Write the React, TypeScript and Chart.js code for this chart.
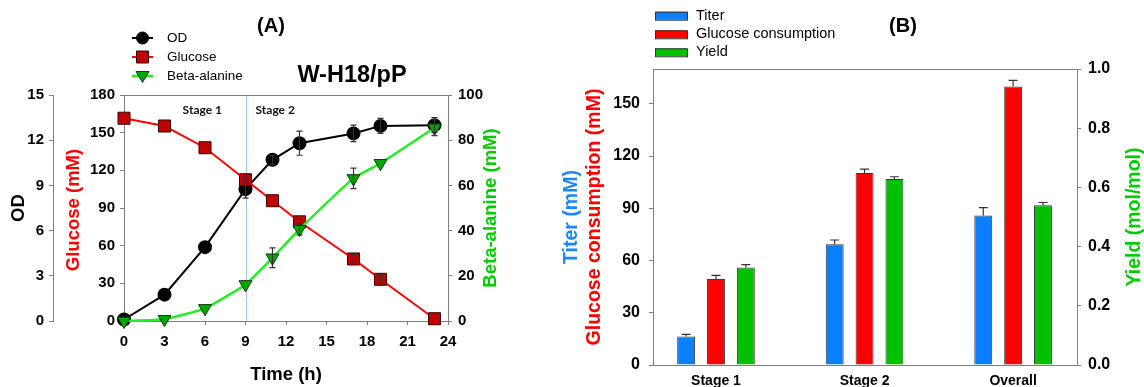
import React, { useEffect, useRef } from 'react';
import { Chart, registerables } from 'chart.js';

Chart.register(...registerables);

// ---------- Panel A data ----------
const timeH = [0, 3, 6, 9, 11, 13, 17, 19, 23];
const odValues = [0.1, 1.75, 4.9, 8.75, 10.7, 11.8, 12.45, 12.95, 13.0];
const odErrors = [0, 0, 0, 0.6, 0.3, 0.8, 0.55, 0.5, 0.5];
const glucoseValues = [161.5, 155.3, 138, 112.5, 95.8, 79, 49.4, 33.2, 1.8];
const glucoseErrors = [0, 0, 0, 3, 0, 2, 3.5, 3.5, 0];
const betaValues = [0, 0.8, 5.6, 16.2, 28, 40.6, 63.1, 69.8, 85.5];
const betaErrors = [0, 0, 0, 0, 4.4, 2.5, 4.5, 0, 3.5];
const timeTicks = [0, 3, 6, 9, 12, 15, 18, 21, 24];
const odTicks = [0, 3, 6, 9, 12, 15];
const glucoseTicks = [0, 30, 60, 90, 120, 150, 180];
const betaTicks = [0, 20, 40, 60, 80, 100];
const stageTexts = ['Stage 1', 'Stage 2'];

// ---------- Panel B data ----------
const stageLabels = ['Stage 1', 'Stage 2', 'Overall'];
const titerValues = [16.3, 69.3, 85.8];
const titerErrors = [1.3, 2.5, 4.6];
const consumptionValues = [49.4, 110.2, 160];
const consumptionErrors = [2.1, 2.3, 3.5];
const yieldValues = [0.329, 0.628, 0.54];
const yieldErrors = [0.01, 0.008, 0.009];
const leftTicksB = [0, 30, 60, 90, 120, 150];
const rightTicksB = [0, 0.2, 0.4, 0.6, 0.8, 1.0];

const FONT = "'Liberation Sans', Arial, sans-serif";
const AXIS = '#7f7f7f';

const setTicks = (arr: number[]) => (s: any) => {
  s.ticks = arr.map((v) => ({ value: v }));
};

function drawMarker(ctx: CanvasRenderingContext2D, style: string, x: number, y: number, fill: string, stroke: string) {
  ctx.save();
  ctx.fillStyle = fill;
  ctx.strokeStyle = stroke;
  ctx.lineWidth = 1;
  ctx.beginPath();
  if (style === 'circle') ctx.arc(x, y, 6, 0, Math.PI * 2);
  else if (style === 'rect') ctx.rect(x - 6, y - 6, 12, 12);
  else {
    ctx.moveTo(x - 6.5, y - 4.5);
    ctx.lineTo(x + 6.5, y - 4.5);
    ctx.lineTo(x, y + 6.5);
    ctx.closePath();
  }
  ctx.fill();
  ctx.stroke();
  ctx.restore();
}

function vText(ctx: CanvasRenderingContext2D, text: string, x: number, y: number, font: string, color: string) {
  ctx.save();
  ctx.translate(x, y);
  ctx.rotate(-Math.PI / 2);
  ctx.font = font;
  ctx.fillStyle = color;
  ctx.textAlign = 'center';
  ctx.textBaseline = 'middle';
  ctx.fillText(text, 0, 0);
  ctx.restore();
}

function hText(ctx: CanvasRenderingContext2D, text: string, x: number, y: number, font: string, color: string, align: CanvasTextAlign = 'center') {
  ctx.save();
  ctx.font = font;
  ctx.fillStyle = color;
  ctx.textAlign = align;
  ctx.textBaseline = 'middle';
  ctx.fillText(text, x, y);
  ctx.restore();
}

const framePlugin = {
  id: 'frame',
  afterDraw(chart: any) {
    const { ctx, chartArea: a } = chart;
    ctx.save();
    ctx.strokeStyle = AXIS;
    ctx.lineWidth = 1;
    ctx.beginPath();
    ctx.moveTo(Math.round(a.left) + 0.5, Math.round(a.top) + 0.5);
    ctx.lineTo(Math.round(a.right) + 0.5, Math.round(a.top) + 0.5);
    ctx.stroke();
    ctx.restore();
  },
};

const errorBarPlugin = {
  id: 'errbars',
  afterDatasetsDraw(chart: any) {
    const { ctx } = chart;
    chart.data.datasets.forEach((ds: any, di: number) => {
      const errs: number[] = ds.errors;
      if (!errs) return;
      const meta = chart.getDatasetMeta(di);
      const yScale = chart.scales[meta.yAxisID];
      const upOnly = ds.upOnly;
      const cap = ds.capWidth || 6;
      meta.data.forEach((el: any, i: number) => {
        const e = errs[i];
        if (!e) return;
        const v = typeof ds.data[i] === 'object' ? ds.data[i].y : ds.data[i];
        const x = el.x;
        const yTop = yScale.getPixelForValue(v + e);
        const yBot = upOnly ? yScale.getPixelForValue(v) : yScale.getPixelForValue(v - e);
        ctx.save();
        ctx.strokeStyle = '#333';
        ctx.lineWidth = 1.2;
        ctx.beginPath();
        ctx.moveTo(x, yTop);
        ctx.lineTo(x, yBot);
        ctx.moveTo(x - cap / 2, yTop);
        ctx.lineTo(x + cap / 2, yTop);
        if (!upOnly) {
          ctx.moveTo(x - cap / 2, yBot);
          ctx.lineTo(x + cap / 2, yBot);
        }
        ctx.stroke();
        ctx.restore();
      });
    });
  },
};

const decorA = {
  id: 'decorA',
  beforeDatasetsDraw(chart: any) {
    const { ctx, chartArea: a, scales } = chart;
    const x9 = Math.round(scales.x.getPixelForValue(9)) + 0.5;
    ctx.save();
    ctx.strokeStyle = '#9dc3e6';
    ctx.lineWidth = 1;
    ctx.beginPath();
    ctx.moveTo(x9, a.top);
    ctx.lineTo(x9, a.bottom);
    ctx.stroke();
    ctx.restore();
    hText(ctx, stageTexts[0], scales.x.getPixelForValue(5.8), a.top + 15, "bold 12px Lato, 'Open Sans', sans-serif", '#111');
    hText(ctx, stageTexts[1], scales.x.getPixelForValue(11.2), a.top + 15, "bold 12px Lato, 'Open Sans', sans-serif", '#111');
  },
  afterDraw(chart: any) {
    const { ctx, chartArea: a, scales } = chart;
    const cy = (a.top + a.bottom) / 2;
    const tf = `bold 18.5px ${FONT}`;
    vText(ctx, 'OD', scales.yOD.left + 18.5, cy, tf, '#000');
    vText(ctx, 'Glucose (mM)', scales.yGlu.left + 20.5, cy + 2, tf, '#ff0000');
    vText(ctx, 'Beta-alanine (mM)', scales.yBeta.left + 43, cy, tf, '#00cc00');
    hText(ctx, 'Time (h)', (a.left + a.right) / 2, 375, tf, '#000');
    hText(ctx, '(A)', 271, 26, `bold 20px ${FONT}`, '#000');
    hText(ctx, 'W-H18/pP', 352, 76, `bold 23.5px ${FONT}`, '#000');
    // legend
    const rows = [38, 57, 76];
    chart.data.datasets.forEach((ds: any, i: number) => {
      const y = rows[i];
      ctx.save();
      ctx.strokeStyle = ds.borderColor;
      ctx.lineWidth = ds.borderWidth;
      ctx.beginPath();
      ctx.moveTo(132, y);
      ctx.lineTo(153, y);
      ctx.stroke();
      ctx.restore();
      drawMarker(ctx, ds.legendMarker, 142.5, y, ds.pointBackgroundColor, ds.pointBorderColor);
      hText(ctx, ds.label, 167, y, `13.5px ${FONT}`, '#000', 'left');
    });
  },
};

const decorB = {
  id: 'decorB',
  afterDraw(chart: any) {
    const { ctx, chartArea: a, scales } = chart;
    const cy = (a.top + a.bottom) / 2;
    const tf = `bold 19.5px ${FONT}`;
    vText(ctx, 'Titer (mM)', scales.y.left + 12, cy, tf, '#1a86ff');
    vText(ctx, 'Glucose consumption (mM)', scales.y.left + 35, cy, tf, '#ff0000');
    vText(ctx, 'Yield (mol/mol)', scales.yR.left + 58, cy, tf, '#00cc00');
    hText(ctx, '(B)', 343, 26, `bold 20px ${FONT}`, '#000');
    const rows = [15.7, 34.3, 52.3];
    chart.data.datasets.forEach((ds: any, i: number) => {
      const y = rows[i];
      ctx.save();
      ctx.fillStyle = ds.backgroundColor;
      ctx.strokeStyle = '#333';
      ctx.lineWidth = 1;
      ctx.fillRect(95, y - 4, 32, 8);
      ctx.strokeRect(95.5, y - 3.5, 32, 8);
      ctx.restore();
      hText(ctx, ds.label, 136, y, `14.5px ${FONT}`, '#000', 'left');
    });
  },
};

const tickFont = { family: FONT, size: 15, weight: 'bold' as const };
const yAxisCommon = (tickLen: number, pad: number) => ({
  grid: { drawOnChartArea: false, drawTicks: true, tickLength: tickLen, color: AXIS },
  border: { display: true, color: AXIS, width: 1 },
  ticks: { font: tickFont, color: '#000', padding: pad, autoSkip: false },
});

export default function App() {
  const refA = useRef<HTMLCanvasElement>(null);
  const refB = useRef<HTMLCanvasElement>(null);

  useEffect(() => {
    Chart.defaults.font.family = FONT;
    const chartA = new Chart(refA.current as HTMLCanvasElement, {
      type: 'line',
      data: {
        datasets: [
          {
            label: 'OD',
            data: timeH.map((t, i) => ({ x: t, y: odValues[i] })),
            yAxisID: 'yOD',
            borderColor: '#000',
            borderWidth: 2,
            pointStyle: 'circle',
            pointRadius: 6,
            pointBackgroundColor: '#000',
            pointBorderColor: '#000',
            legendMarker: 'circle',
            errors: odErrors,
            order: 3,
            clip: false,
          } as any,
          {
            label: 'Glucose',
            data: timeH.map((t, i) => ({ x: t, y: glucoseValues[i] })),
            yAxisID: 'yGlu',
            borderColor: '#ff0000',
            borderWidth: 2,
            pointStyle: 'rect',
            pointRadius: 8.5,
            pointBackgroundColor: '#c00000',
            pointBorderColor: '#3a0000',
            pointBorderWidth: 1,
            legendMarker: 'rect',
            errors: glucoseErrors,
            order: 2,
            clip: false,
          } as any,
          {
            label: 'Beta-alanine',
            data: timeH.map((t, i) => ({ x: t, y: betaValues[i] })),
            yAxisID: 'yBeta',
            borderColor: '#22ee22',
            borderWidth: 2.5,
            tension: 0.15,
            pointStyle: 'triangle',
            pointRotation: 180,
            pointRadius: 7.5,
            pointBackgroundColor: '#00a800',
            pointBorderColor: '#1a3a1a',
            pointBorderWidth: 1,
            legendMarker: 'triangleDown',
            errors: betaErrors,
            order: 1,
            clip: false,
          } as any,
        ],
      },
      options: {
        responsive: false,
        animation: false,
        events: [],
        layout: { padding: { top: 95, left: 0, right: 0, bottom: 0 } },
        plugins: { legend: { display: false }, tooltip: { enabled: false } },
        scales: {
          x: {
            type: 'linear',
            min: 0,
            max: 24,
            afterBuildTicks: setTicks(timeTicks),
            afterFit: (s: any) => { s.height = 66; },
            grid: { drawOnChartArea: false, drawTicks: true, tickLength: 4, color: AXIS },
            border: { display: true, color: AXIS },
            ticks: { font: tickFont, color: '#000', padding: 8, maxRotation: 0, autoSkip: false },
          },
          yOD: {
            position: 'left',
            weight: 1,
            min: 0,
            max: 15,
            afterBuildTicks: setTicks(odTicks),
            afterFit: (s: any) => { s.width = 53; },
            ...yAxisCommon(4, 5),
          },
          yGlu: {
            position: 'left',
            weight: 0,
            min: 0,
            max: 180,
            afterBuildTicks: setTicks(glucoseTicks),
            afterFit: (s: any) => { s.width = 71; },
            ...yAxisCommon(4, 5),
          },
          yBeta: {
            position: 'right',
            min: 0,
            max: 100,
            afterBuildTicks: setTicks(betaTicks),
            afterFit: (s: any) => { s.width = 72; },
            ...yAxisCommon(4, 6),
          },
        } as any,
      },
      plugins: [framePlugin, decorA, errorBarPlugin],
    });

    const chartB = new Chart(refB.current as HTMLCanvasElement, {
      type: 'bar',
      data: {
        datasets: [
          {
            label: 'Titer',
            data: titerValues.map((v, i) => ({ x: i, y: v })),
            yAxisID: 'y',
            backgroundColor: '#0a80ff',
            borderColor: '#3a3a3a',
            borderWidth: 1,
            errors: titerErrors,
            upOnly: true,
            capWidth: 9,
          } as any,
          {
            label: 'Glucose consumption',
            data: consumptionValues.map((v, i) => ({ x: i, y: v })),
            yAxisID: 'y',
            backgroundColor: '#ff0000',
            borderColor: '#3a3a3a',
            borderWidth: 1,
            errors: consumptionErrors,
            upOnly: true,
            capWidth: 9,
          } as any,
          {
            label: 'Yield',
            data: yieldValues.map((v, i) => ({ x: i, y: v })),
            yAxisID: 'yR',
            backgroundColor: '#00c000',
            borderColor: '#3a3a3a',
            borderWidth: 1,
            errors: yieldErrors,
            upOnly: true,
            capWidth: 9,
          } as any,
        ],
      },
      options: {
        responsive: false,
        animation: false,
        events: [],
        categoryPercentage: 0.603,
        barPercentage: 0.6,
        layout: { padding: { top: 69, left: 0, right: 0, bottom: 0 } },
        plugins: { legend: { display: false }, tooltip: { enabled: false } },
        scales: {
          x: {
            type: 'linear',
            offset: false,
            min: -0.424,
            max: 2.43,
            afterBuildTicks: setTicks([0, 1, 2]),
            afterFit: (s: any) => { s.height = 22; },
            grid: { display: true, drawOnChartArea: false, drawTicks: false, color: AXIS },
            border: { display: true, color: AXIS },
            ticks: {
              font: { family: FONT, size: 14, weight: 'bold' },
              color: '#000',
              padding: 8,
              maxRotation: 0,
              autoSkip: false,
              callback: (v: any) => stageLabels[Math.round(Number(v))] ?? '',
            },
          },
          y: {
            position: 'left',
            min: 0,
            max: 170,
            afterBuildTicks: setTicks(leftTicksB),
            afterFit: (s: any) => { s.width = 93; },
            ...yAxisCommon(4, 9),
            ticks: { font: { family: FONT, size: 16, weight: 'bold' }, color: '#000', padding: 9, autoSkip: false },
          },
          yR: {
            position: 'right',
            min: 0,
            max: 1,
            afterBuildTicks: setTicks(rightTicksB),
            afterFit: (s: any) => { s.width = 67; },
            ...yAxisCommon(4, 7),
            ticks: {
              font: { family: FONT, size: 16, weight: 'bold' },
              color: '#000',
              padding: 7,
              autoSkip: false,
              callback: (v: any) => Number(v).toFixed(1),
            },
          },
        } as any,
      },
      plugins: [framePlugin, decorB, errorBarPlugin],
    });

    return () => {
      chartA.destroy();
      chartB.destroy();
    };
  }, []);

  return (
    <div style={{ position: 'fixed', left: 0, top: 0, width: 1144, height: 387, background: '#fff', overflow: 'hidden' }}>
      <canvas ref={refA} width={520} height={387} style={{ position: 'absolute', left: 0, top: 0, width: 520, height: 387 }} />
      <canvas ref={refB} width={584} height={387} style={{ position: 'absolute', left: 560, top: 0, width: 584, height: 387 }} />
    </div>
  );
}
